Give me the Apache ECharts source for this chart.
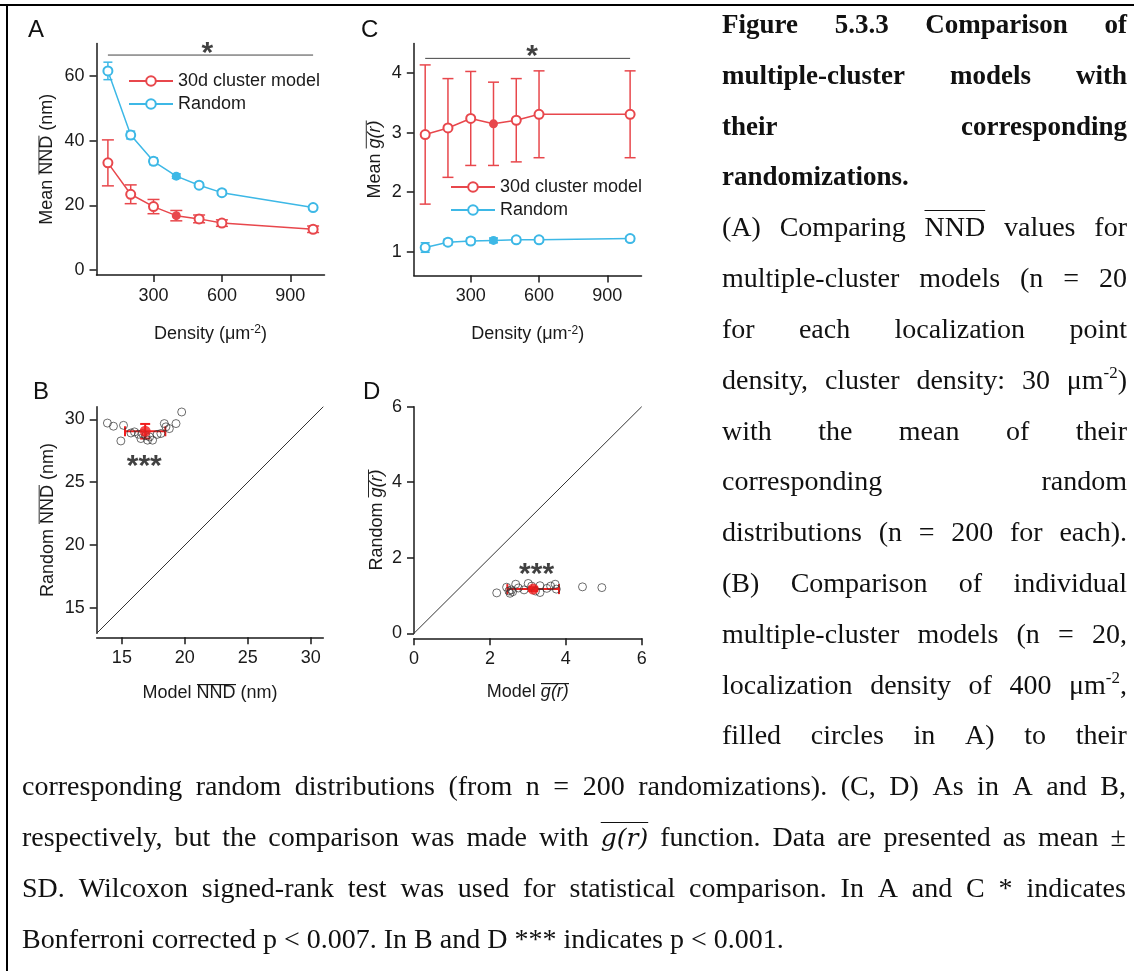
<!DOCTYPE html>
<html><head><meta charset="utf-8">
<script src="https://cdn.jsdelivr.net/npm/echarts@6/dist/echarts.min.js"></script>
<style>
html,body{margin:0;padding:0;background:#fff;}
#wrap{position:relative;width:1134px;height:971px;overflow:hidden;background:#fff;}
#chart{position:absolute;left:0;top:0;width:1134px;height:971px;}
.ln{position:absolute;font-family:'Liberation Serif','Times New Roman',serif;font-size:28px;line-height:28px;color:#111;white-space:nowrap;}
.jf{display:flex;justify-content:space-between;}
.jf span{white-space:nowrap;}
.b{font-weight:bold;font-size:27px;line-height:27px;}
.ov{text-decoration:overline;text-decoration-thickness:1px;}
.gr{font-style:italic;text-decoration:overline;text-decoration-thickness:1px;font-family:'DejaVu Serif','Liberation Serif',serif;font-size:25px;}
sup{font-size:17px;vertical-align:baseline;position:relative;top:-11px;}
#bt{position:absolute;left:0;top:4px;width:1134px;height:2px;background:#000;}
#bl{position:absolute;left:6px;top:4px;width:2px;height:967px;background:#000;}
</style></head>
<body><div id="wrap"><div id="chart"></div><div id="bt"></div><div id="bl"></div></div>
<script>
// ---------------- data ----------------
const densities = [100, 200, 300, 400, 500, 600, 1000];
const highlightDensity = 400;
const nndModelMean  = [33.1, 23.4, 19.6, 16.8, 15.8, 14.5, 12.6];
const nndModelSD    = [7.1, 2.9, 2.2, 1.6, 1.2, 1.0, 1.0];
const nndRandomMean = [61.5, 41.7, 33.6, 29.0, 26.2, 23.9, 19.3];
const nndRandomSD   = [2.7, 1.2, 1.0, 0.7, 0.7, 0.7, 0.6];
const gModelMean    = [2.97, 3.08, 3.24, 3.15, 3.21, 3.31, 3.31];
const gModelSD      = [1.17, 0.83, 0.79, 0.70, 0.70, 0.73, 0.73];
const gRandomMean   = [1.07, 1.16, 1.18, 1.19, 1.20, 1.20, 1.22];
const gRandomSD     = [0.08, 0.05, 0.05, 0.04, 0.04, 0.04, 0.04];

const bModelNND  = [13.85, 14.33, 15.13, 14.92, 15.72, 16.33, 16.51, 16.64, 17.04, 17.44, 17.2, 16.9, 18.1, 18.37, 18.5, 18.77, 19.3, 19.75, 16.0, 17.8];
const bRandomNND = [29.7, 29.45, 29.52, 28.28, 28.91, 28.81, 28.47, 28.87, 28.34, 28.34, 28.6, 28.7, 28.87, 29.66, 29.4, 29.26, 29.66, 30.58, 29.0, 28.8];
const bMean = [16.85, 29.05];
const bSD   = [1.6, 0.58];

const dModelG  = [2.18, 2.44, 2.57, 2.53, 2.68, 2.6, 3.01, 3.32, 3.32, 3.5, 3.72, 3.75, 4.44, 4.95, 2.75, 2.9, 3.1, 3.2, 3.6, 2.5];
const dRandomG = [1.07, 1.22, 1.15, 1.06, 1.30, 1.10, 1.32, 1.26, 1.08, 1.19, 1.30, 1.17, 1.23, 1.21, 1.20, 1.15, 1.25, 1.12, 1.25, 1.12];
const dMean = [3.14, 1.17];
const dSD   = [0.68, 0.05];

const ticksDensity = [300, 600, 900];
const ticksA = [0, 20, 40, 60];
const ticksC = [1, 2, 3, 4];
const ticksB = [15, 20, 25, 30];
const ticksD = [0, 2, 4, 6];

const sigSpan = [100, 1000];
const sigLevelA = 66.4;
const sigLevelC = 4.25;

// ---------------- styles ----------------
const RED = '#e8474c', BLUE = '#3db8e6', AX = '#1a1a1a';
const FONT = 'Liberation Sans';

// overline image for rich text segments
const ovCanvas = document.createElement('canvas');
ovCanvas.width = 4; ovCanvas.height = 20;
(function(){ const g = ovCanvas.getContext('2d'); g.fillStyle = AX; g.fillRect(0, 0, 4, 1); })();

const richT = {
  t:{fontSize:18, fontFamily:FONT, color:AX, lineHeight:20},
  o:{fontSize:18, fontFamily:FONT, color:AX, lineHeight:20, backgroundColor:{image:ovCanvas}},
  oi:{fontSize:18, fontFamily:FONT, color:AX, lineHeight:20, fontStyle:'italic', backgroundColor:{image:ovCanvas}},
  s:{fontSize:12, fontFamily:FONT, color:AX, verticalAlign:'top', padding:[0,0,6,0]}
};

function axisBase(g, min, max, ticks, name, gap) {
  return {type:'value', gridIndex:g, min, max,
    name, nameLocation:'middle', nameGap:gap,
    nameTextStyle:{fontSize:18, fontFamily:FONT, color:AX, rich:richT},
    axisLine:{show:true, onZero:false, lineStyle:{color:AX, width:1.5}},
    axisTick:{show:true, length:7, customValues:ticks, lineStyle:{color:AX, width:1.5}},
    axisLabel:{customValues:ticks, margin:12, fontSize:18, fontFamily:FONT, color:AX},
    splitLine:{show:false}};
}
function xAx(g, min, max, ticks, name, gap, offset) {
  const a = axisBase(g, min, max, ticks, name, gap); a.offset = offset || 0; return a;
}
function yAx(g, min, max, ticks, name, gap) { return axisBase(g, min, max, ticks, name, gap); }

function lineSeries(name, means, color, xi, yi) {
  return {type:'line', name, xAxisIndex:xi, yAxisIndex:yi, symbol:'emptyCircle', symbolSize:9,
    data: densities.map((d,i)=> d===highlightDensity ? {value:[d,means[i]], symbol:'circle'} : [d,means[i]]),
    lineStyle:{color, width:1.5}, itemStyle:{color, borderWidth:1.3}, z:3, animation:false, silent:true};
}
function errSeries(dir, rows, color, capHalf, lw, xi, yi) {
  return {type:'custom', xAxisIndex:xi, yAxisIndex:yi, data:rows, z:2, silent:true, animation:false,
    encode: dir==='v' ? {x:0, y:[1,2]} : {y:0, x:[1,2]},
    renderItem(params, api){
      const c = api.value(0), lo = api.value(1), hi = api.value(2);
      let a, b, caps;
      const st = {stroke:color, lineWidth:lw, fill:null};
      if (dir==='v') {
        a = api.coord([c, lo]); b = api.coord([c, hi]);
        caps = [[a[0]-capHalf,a[1],a[0]+capHalf,a[1]],[b[0]-capHalf,b[1],b[0]+capHalf,b[1]]];
      } else {
        a = api.coord([lo, c]); b = api.coord([hi, c]);
        caps = [[a[0],a[1]-capHalf,a[0],a[1]+capHalf],[b[0],b[1]-capHalf,b[0],b[1]+capHalf]];
      }
      const ch = [{type:'line', shape:{x1:a[0],y1:a[1],x2:b[0],y2:b[1]}, style:st}];
      caps.forEach(k=>ch.push({type:'line', shape:{x1:k[0],y1:k[1],x2:k[2],y2:k[3]}, style:st}));
      return {type:'group', children:ch};
    }};
}
function vRows(means, sds){ return densities.map((d,i)=>[d, means[i]-sds[i], means[i]+sds[i]]); }

function starSeries(xi, yi, pt, text) {
  return {type:'scatter', xAxisIndex:xi, yAxisIndex:yi, symbolSize:0, silent:true, animation:false, z:5,
    data:[pt], label:{show:true, position:'inside', formatter:text, fontSize:30, fontWeight:'bold', fontFamily:FONT, color:'#111'}};
}
function sigBar(xi, yi, level) {
  return {type:'line', xAxisIndex:xi, yAxisIndex:yi, symbol:'none', silent:true, animation:false,
    data: sigSpan.map(x=>[x, level]), lineStyle:{color:'#444', width:1}};
}
function cloud(xi, yi, xs, ys, lo, hi) {
  return {type:'scatter', xAxisIndex:xi, yAxisIndex:yi, symbol:'circle', symbolSize:8, silent:true, animation:false, z:3,
    data: xs.map((x,i)=>[x, ys[i]]),
    itemStyle:{color:'rgba(255,255,255,0)', borderColor:'#333', borderWidth:0.9},
    markLine:{silent:true, symbol:'none', animation:false, label:{show:false},
      lineStyle:{color:'#333', width:1, type:'solid'},
      data:[[{coord:[lo,lo]},{coord:[hi,hi]}]]}};
}
function meanPoint(xi, yi, m) {
  return {type:'scatter', xAxisIndex:xi, yAxisIndex:yi, symbol:'circle', symbolSize:11, silent:true, animation:false, z:6,
    data:[m], itemStyle:{color:'#f01e1e'}};
}

const legendBase = {data:['30d cluster model','Random'], orient:'vertical', itemWidth:44, itemHeight:12, itemGap:3,
  padding:0, selectedMode:false, textStyle:{fontSize:18, fontFamily:FONT, color:AX, lineHeight:20}};

const option = {
  animation:false,
  backgroundColor:'transparent',
  grid:[
    {left:96.5, top:43.4, width:228, height:231.5},
    {left:96.7, top:406.7, width:226.6, height:226.6},
    {left:413.8, top:43.5, width:227.7, height:232},
    {left:414, top:406.7, width:227.7, height:226.6}
  ],
  xAxis:[
    xAx(0, 50, 1050, ticksDensity, '{t|Density (μm}{s|-2}{t|)}', 49),
    xAx(1, 13, 31, ticksB, '{t|Model }{o|NND}{t| (nm)}', 46, 4),
    xAx(2, 50, 1050, ticksDensity, '{t|Density (μm}{s|-2}{t|)}', 49),
    xAx(3, 0, 6, ticksD, '{t|Model }{oi|g(r)}', 44, 5)
  ],
  yAxis:[
    yAx(0, -1.5, 70, ticksA, '{t|Mean }{o|NND}{t| (nm)}', 39),
    yAx(1, 13, 31, ticksB, '{t|Random }{o|NND}{t| (nm)}', 39),
    yAx(2, 0.6, 4.5, ticksC, '{t|Mean }{oi|g(r)}', 29),
    yAx(3, 0, 6, ticksD, '{t|Random }{oi|g(r)}', 27)
  ],
  legend:[
    Object.assign({}, legendBase, {left:128, top:71}),
    Object.assign({}, legendBase, {left:450, top:177})
  ],
  graphic:[
    {type:'text', left:28, top:18, style:{text:'A', font:'24px "Liberation Sans"', fill:'#111'}},
    {type:'text', left:33, top:380, style:{text:'B', font:'24px "Liberation Sans"', fill:'#111'}},
    {type:'text', left:361, top:18, style:{text:'C', font:'24px "Liberation Sans"', fill:'#111'}},
    {type:'text', left:363, top:380, style:{text:'D', font:'24px "Liberation Sans"', fill:'#111'}}
  ],
  series:[
    // A
    sigBar(0,0,sigLevelA),
    starSeries(0,0,[536,66.7],'*'),
    errSeries('v', vRows(nndModelMean, nndModelSD), RED, 6, 1.5, 0, 0),
    errSeries('v', vRows(nndRandomMean, nndRandomSD), BLUE, 4.5, 1.5, 0, 0),
    lineSeries('30d cluster model', nndModelMean, RED, 0, 0),
    lineSeries('Random', nndRandomMean, BLUE, 0, 0),
    // C
    sigBar(2,2,sigLevelC),
    starSeries(2,2,[569,4.27],'*'),
    errSeries('v', vRows(gModelMean, gModelSD), RED, 5.5, 1.5, 2, 2),
    errSeries('v', vRows(gRandomMean, gRandomSD), BLUE, 4.5, 1.5, 2, 2),
    lineSeries('30d cluster model', gModelMean, RED, 2, 2),
    lineSeries('Random', gRandomMean, BLUE, 2, 2),
    // B
    cloud(1,1,bModelNND,bRandomNND,13,31),
    errSeries('h', [[bMean[1], bMean[0]-bSD[0], bMean[0]+bSD[0]]], '#f01e1e', 5, 2, 1, 1),
    errSeries('v', [[bMean[0], bMean[1]-bSD[1], bMean[1]+bSD[1]]], '#f01e1e', 5, 2, 1, 1),
    meanPoint(1,1,bMean),
    starSeries(1,1,[16.78,26.2],'***'),
    // D
    cloud(3,3,dModelG,dRandomG,0,6),
    errSeries('h', [[dMean[1], dMean[0]-dSD[0], dMean[0]+dSD[0]]], '#f01e1e', 5, 2, 3, 3),
    errSeries('v', [[dMean[0], dMean[1]-dSD[1], dMean[1]+dSD[1]]], '#f01e1e', 5, 2, 3, 3),
    meanPoint(3,3,dMean),
    starSeries(3,3,[3.23,1.56],'***')
  ]
};
const chart = echarts.init(document.getElementById('chart'), null, {renderer:'canvas'});
chart.setOption(option);

// ---------------- caption text ----------------
const captionRight = [
  {b:1, j:1, t:'Figure 5.3.3 Comparison of'},
  {b:1, j:1, t:'multiple-cluster models with'},
  {b:1, j:1, t:'their corresponding'},
  {b:1, j:0, t:'randomizations.'},
  {j:1, t:'(A) Comparing <span class="ov">NND</span> values for'},
  {j:1, t:'multiple-cluster models (n = 20'},
  {j:1, t:'for each localization point'},
  {j:1, t:'density, cluster density: 30 μm<sup>-2</sup>)'},
  {j:1, t:'with the mean of their'},
  {j:1, t:'corresponding random'},
  {j:1, t:'distributions (n = 200 for each).'},
  {j:1, t:'(B) Comparison of individual'},
  {j:1, t:'multiple-cluster models (n = 20,'},
  {j:1, t:'localization density of 400 μm<sup>-2</sup>,'},
  {j:1, t:'filled circles in A) to their'}
];
const captionBottom = [
  {j:1, t:'corresponding random distributions (from n = 200 randomizations). (C, D) As in A and B,'},
  {j:1, t:'respectively, but the comparison was made with <span class="gr">g(r)</span> function. Data are presented as mean ±'},
  {j:1, t:'SD. Wilcoxon signed-rank test was used for statistical comparison. In A and C * indicates'},
  {j:0, t:'Bonferroni corrected p &lt; 0.007. In B and D *** indicates p &lt; 0.001.'}
];
const wrap = document.getElementById('wrap');
function addLine(L, left, width, idx) {
  const d = document.createElement('div');
  d.className = 'ln' + (L.j ? ' jf' : '') + (L.b ? ' b' : '');
  const fs = L.b ? 27 : 28;
  d.style.left = left + 'px';
  d.style.top = (33 + idx*50.8 - 0.8165*fs) + 'px';
  if (L.j) { d.style.width = width + 'px'; d.innerHTML = L.t.split(/ (?![^<]*>)/).map(w=>'<span>'+w+'</span>').join(''); }
  else d.innerHTML = L.t;
  wrap.appendChild(d);
}
captionRight.forEach((L,i)=>addLine(L, 722, 405, i));
captionBottom.forEach((L,i)=>addLine(L, 22, 1104, 15+i));
</script>
</body></html>
